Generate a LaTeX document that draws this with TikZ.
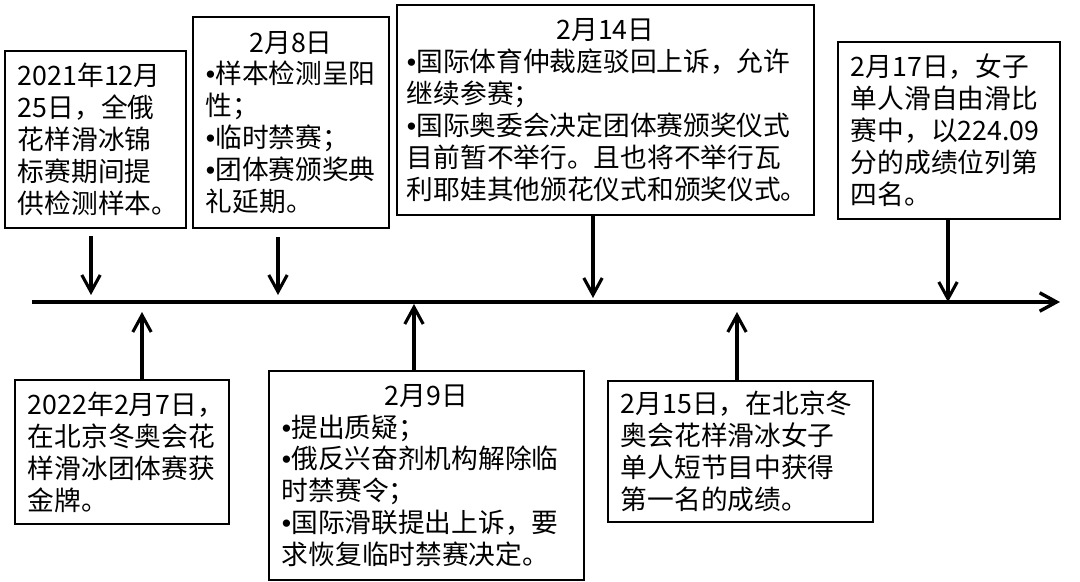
\documentclass[tikz,border=0pt]{standalone}
\usepackage{fontspec}
\setmainfont{Noto Sans CJK SC}
\newfontfamily\dotfont{Liberation Sans}
\newcommand{\bul}{{\dotfont •}}
\usetikzlibrary{arrows.meta, positioning}

\begin{document}
\begin{tikzpicture}[x=0.025cm, y=-0.025cm,
  event/.style={rectangle, draw=black, line width=2pt, inner xsep=0.325cm, inner ysep=0pt, align=left, font=\fontsize{19pt}{22.7pt}\selectfont},
  axis/.style={line width=2.4pt, -{Straight Barb[length=4.2mm, width=4.6mm]}},
  arrow/.style={line width=2.2pt, -{Straight Barb[length=4.2mm, width=4.6mm]}}]

  \useasboundingbox (0,0) rectangle (1080,582);

  % Nodes
  \node (y21) [event, minimum width=4.525cm, minimum height=4.425cm, text width=3.875cm] at (95.5,139.5) {2021年12月\\25日，全俄\\花样滑冰锦\\标赛期间提\\供检测样本。};
  \node (f8) [event, minimum width=4.9cm, minimum height=5.275cm, text width=4.25cm] at (291,122.5) {{\centering 2月8日\par}\bul 样本检测呈阳\\性；\\\bul 临时禁赛；\\\bul 团体赛颁奖典\\礼延期。};
  \node (f14) [event, inner xsep=0.25cm, minimum width=10.425cm, minimum height=5.25cm, text width=9.925cm] at (605.5,110) {{\centering 2月14日\par}\bul 国际体育仲裁庭驳回上诉，允许\\继续参赛；\\\bul 国际奥委会决定团体赛颁奖仪式\\目前暂不举行。且也将不举行瓦\\利耶娃其他颁花仪式和颁奖仪式。};
  \node (f17) [event, minimum width=5.55cm, minimum height=4.425cm, text width=4.9cm] at (949,130.5) {2月17日，女子\\单人滑自由滑比\\赛中，以224.09\\分的成绩位列第\\四名。};

  \node (f7) [event, minimum width=5.35cm, minimum height=3.6cm, text width=4.7cm] at (122,452) {2022年2月7日，\\在北京冬奥会花\\样滑冰团体赛获\\金牌。};
  \node (f9) [event, minimum width=7.875cm, minimum height=5.225cm, text width=7.225cm] at (426.5,475.5) {{\centering 2月9日\par}\bul 提出质疑；\\\bul 俄反兴奋剂机构解除临\\时禁赛令；\\\bul 国际滑联提出上诉，要\\求恢复临时禁赛决定。};
  \node (f15) [event, minimum width=6.625cm, minimum height=3.525cm, text width=5.975cm] at (740.5,451.5) {2月15日，在北京冬\\奥会花样滑冰女子\\单人短节目中获得\\第一名的成绩。};

  % Time line
  \coordinate (tstart) at (32,302);
  \coordinate (tend) at (1060,302);
  \draw [axis] (tstart) -- (tend);

  % Arrow ends
  \coordinate (a1) at (91,295);
  \coordinate (a2) at (278,295);
  \coordinate (a3) at (593,298);
  \coordinate (a4) at (948,302);
  \coordinate (a5) at (142,312);
  \coordinate (a6) at (414,304);
  \coordinate (a7) at (737,312);

  % Arrows
  \draw [arrow, shorten <=0.175cm] (y21.south -| a1) -- (a1);
  \draw [arrow, shorten <=0.2cm] (f8.south -| a2) -- (a2);
  \draw [arrow] (f14.south -| a3) -- (a3);
  \draw [arrow] (f17.south -| a4) -- (a4);

  \draw [arrow] (f7.north -| a5) -- (a5);
  \draw [arrow] (f9.north -| a6) -- (a6);
  \draw [arrow] (f15.north -| a7) -- (a7);
\end{tikzpicture}
\end{document}
